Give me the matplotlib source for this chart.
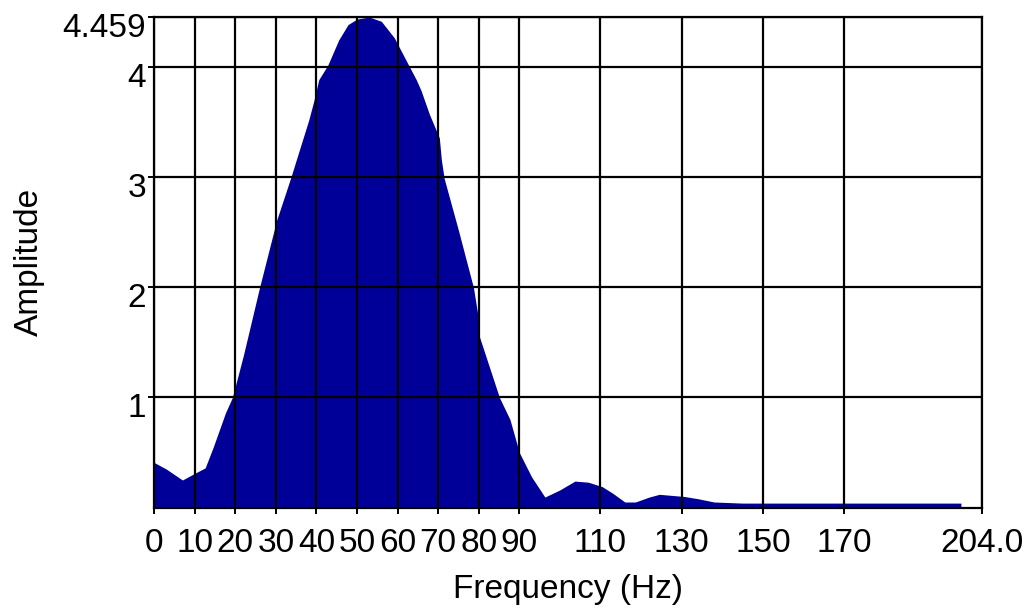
import matplotlib.pyplot as plt
import matplotlib.transforms as mtransforms

# Spectrum values
freq = [0, 3, 7, 10, 12.6, 14.6, 17.6, 19.3, 22, 26, 30.2, 33.7, 38.1, 39.4,
        40.6, 42.8, 45.5, 47.8, 50, 53, 56, 59.2, 62.6, 64.6, 65.8, 67.8,
        70.3, 70.8, 71.5, 75, 78.2, 78.7, 79.7, 80.2, 85.1, 87.7, 90, 93,
        96.3, 100, 103.7, 107, 110.4, 113, 116, 118.6, 122, 124.5, 130.7,
        134, 138, 145, 198.8]
amp = [0.41, 0.35, 0.25, 0.31, 0.36, 0.55, 0.86, 1.00, 1.38, 2.00, 2.61, 3.00,
       3.52, 3.70, 3.89, 4.02, 4.25, 4.39, 4.44, 4.459, 4.42, 4.27, 4.03, 3.89,
       3.79, 3.58, 3.36, 3.16, 2.99, 2.52, 2.07, 2.00, 1.77, 1.55, 1.00, 0.80,
       0.50, 0.28, 0.095, 0.16, 0.24, 0.23, 0.19, 0.13, 0.05, 0.05, 0.095,
       0.12, 0.10, 0.08, 0.05, 0.04, 0.04]

x_ticks = [0, 10, 20, 30, 40, 50, 60, 70, 80, 90, 110, 130, 150, 170, 204]
x_labels = ['0', '10', '20', '30', '40', '50', '60', '70', '80', '90',
            '110', '130', '150', '170', '204.0']
y_ticks = [1, 2, 3, 4, 4.459]
y_labels = ['1', '2', '3', '4', '4.459']

plt.rcParams['font.family'] = ['Liberation Sans', 'DejaVu Sans']

fig = plt.figure(figsize=(10.29, 6.14), dpi=100)
ax = fig.add_axes([154 / 1029, 1 - 507.5 / 614, 828 / 1029, 490.5 / 614])

ax.fill_between(freq, amp, 0, color='#000099', linewidth=0, zorder=1)

ax.set_xlim(0, 204)
ax.set_ylim(0, 4.459)
ax.set_xticks(x_ticks)
ax.set_xticklabels(x_labels)
ax.set_yticks(y_ticks)
ax.set_yticklabels(y_labels)

ax.grid(True, color='black', linewidth=1.6, zorder=2)
ax.set_axisbelow(False)
for s in ax.spines.values():
    s.set_linewidth(1.6)
    s.set_color('black')
    s.set_zorder(3)

ax.tick_params(axis='both', direction='out', length=4.5, width=1.4,
               labelsize=24, colors='black')
ax.tick_params(axis='x', pad=10)
ax.tick_params(axis='y', pad=1)

# y labels sit a little below their ticks in the original
shift = mtransforms.ScaledTranslation(0, -8 / 100, fig.dpi_scale_trans)
for lbl in ax.get_yticklabels():
    lbl.set_transform(lbl.get_transform() + shift)

ax.set_xlabel('Frequency (Hz)', fontsize=24, labelpad=11)
ax.set_ylabel('Amplitude', fontsize=24, labelpad=13)

fig.savefig('out.png', dpi=100)
